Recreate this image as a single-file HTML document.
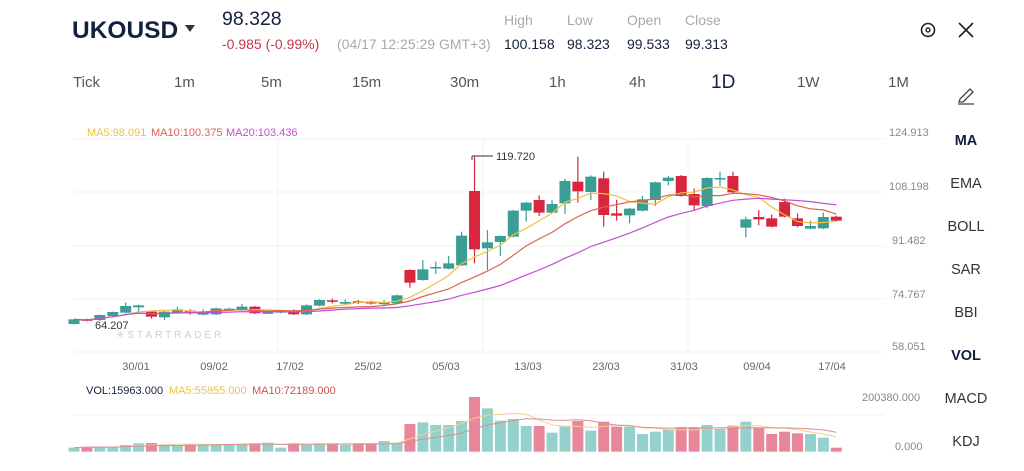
<!DOCTYPE html>
<html><head><meta charset="utf-8">
<style>
body{margin:0;width:1024px;height:471px;background:#fff;overflow:hidden;font-family:"Liberation Sans",sans-serif;}
svg{position:absolute;left:0;top:0}
</style></head><body>
<svg id="s" width="1024" height="471" xmlns="http://www.w3.org/2000/svg" font-family="Liberation Sans, sans-serif">
<text x="72" y="38" font-size="24.5" font-weight="bold" fill="#14213d">UKOUSD</text>
<path d="M185 25 L195 25 L190 32 Z" fill="#333"/>
<text x="222" y="25" font-size="19.5" fill="#14213d">98.328</text>
<text x="222" y="49" font-size="14" fill="#c8364a">-0.985 (-0.99%)</text>
<text x="337" y="49" font-size="14" fill="#a9a9a9">(04/17 12:25:29 GMT+3)</text>
<g font-size="14" fill="#a9a9a9"><text x="504" y="25">High</text><text x="567" y="25">Low</text><text x="627" y="25">Open</text><text x="685" y="25">Close</text></g>
<g font-size="14" fill="#14213d"><text x="504" y="49">100.158</text><text x="567" y="49">98.323</text><text x="627" y="49">99.533</text><text x="685" y="49">99.313</text></g>
<circle cx="928" cy="30" r="6.5" fill="none" stroke="#222" stroke-width="1.6"/><circle cx="928" cy="30" r="2" fill="none" stroke="#222" stroke-width="1.4"/>
<path d="M959 23 L973 37 M973 23 L959 37" stroke="#222" stroke-width="1.6"/>
<g font-size="15" fill="#555"><text x="73" y="87">Tick</text><text x="174" y="87">1m</text><text x="261" y="87">5m</text><text x="352" y="87">15m</text><text x="450" y="87">30m</text><text x="549" y="87">1h</text><text x="629" y="87">4h</text><text x="797" y="87">1W</text><text x="888" y="87">1M</text></g>
<text x="711" y="88" font-size="19" fill="#14213d">1D</text>
<path d="M960 99 L970 89 L973 92 L963 102 L959 102 Z M958 104 L974 104" stroke="#444" fill="none" stroke-width="1.3"/>
<g font-size="14.5" fill="#333" text-anchor="middle"><text x="966" y="145" font-weight="bold" fill="#14213d">MA</text><text x="966" y="188">EMA</text><text x="966" y="231">BOLL</text><text x="966" y="274">SAR</text><text x="966" y="317">BBI</text><text x="966" y="360" font-weight="bold" fill="#14213d">VOL</text><text x="966" y="403">MACD</text><text x="966" y="446">KDJ</text></g>
<g stroke="#f2f2f2" stroke-width="1"><line x1="73" y1="139" x2="885" y2="139"/><line x1="73" y1="192" x2="885" y2="192"/><line x1="73" y1="246" x2="885" y2="246"/><line x1="73" y1="299" x2="885" y2="299"/><line x1="73" y1="352" x2="885" y2="352"/><line x1="278" y1="139" x2="278" y2="352"/><line x1="483" y1="139" x2="483" y2="352"/><line x1="688" y1="139" x2="688" y2="352"/><line x1="73" y1="415" x2="885" y2="415"/></g>
<g font-size="11" fill="#888"><text x="889" y="136">124.913</text><text x="889" y="190">108.198</text><text x="892" y="244">91.482</text><text x="892" y="298">74.767</text><text x="892" y="350">58.051</text><text x="862" y="401">200380.000</text><text x="895" y="450">0.000</text></g>
<g font-size="11" fill="#666" text-anchor="middle"><text x="136" y="370">30/01</text><text x="214" y="370">09/02</text><text x="290" y="370">17/02</text><text x="368" y="370">25/02</text><text x="446" y="370">05/03</text><text x="528" y="370">13/03</text><text x="606" y="370">23/03</text><text x="684" y="370">31/03</text><text x="757" y="370">09/04</text><text x="832" y="370">17/04</text></g>
<g font-size="11"><text x="87" y="136" fill="#f0c040">MA5:98.091</text><text x="151" y="136" fill="#e06050">MA10:100.375</text><text x="226" y="136" fill="#c050d0">MA20:103.436</text></g>
<g font-size="11"><text x="86" y="394" fill="#14213d">VOL:15963.000</text><text x="169" y="394" fill="#f0c040">MA5:55855.000</text><text x="252" y="394" fill="#d05050">MA10:72189.000</text></g>
<text x="95" y="329" font-size="11" fill="#333">64.207</text>
<text x="116" y="338" font-size="10" fill="#ccd" letter-spacing="3">✳STARTRADER</text>
<path d="M472 156 L472 160 M472 156 L493 156" stroke="#333" fill="none"/>
<text x="496" y="160" font-size="11" fill="#333">119.720</text>
<g id="c"></g>
</svg>
<script>
var C=[
[42,598,612,598,614,'g'],[70,598,602,596,604,'r'],[110,585,600,584,602,'g'],[150,576,588,575,590,'g'],[188,558,578,548,580,'g'],[228,556,562,554,575,'g'],[265,575,590,573,596,'r'],[305,575,592,573,600,'g'],[343,568,580,560,582,'g'],[383,572,580,568,584,'r'],[422,574,584,568,586,'g'],[460,565,583,563,585,'g'],[500,566,571,563,573,'g'],[538,560,570,552,572,'g'],[577,560,580,558,582,'r'],[615,577,580,575,582,'g'],[655,572,578,570,580,'g'],[693,572,583,568,585,'r'],[733,556,583,553,585,'g'],[771,540,557,538,559,'g'],[810,541,545,536,550,'r'],[848,546,551,538,553,'g'],[886,544,548,540,552,'r'],[928,546,550,542,554,'r'],[966,548,550,540,556,'g'],[1005,526,550,524,552,'g'],[1044,450,488,448,503,'r'],[1082,448,480,420,482,'g'],[1122,441,444,425,462,'g'],[1160,430,446,408,448,'g'],[1200,347,436,335,438,'g'],[1238,213,388,110,430,'r'],
[1278,367,385,330,450,'g'],[1316,348,366,346,408,'g'],[1355,272,350,270,352,'g'],[1394,248,272,246,305,'g'],[1432,240,278,226,288,'r'],[1472,252,278,240,280,'g'],[1511,183,250,176,282,'g'],[1550,185,214,110,248,'r'],[1589,170,216,166,240,'g'],[1628,175,285,155,320,'r'],[1666,280,287,240,302,'r'],[1705,266,286,264,310,'g'],[1744,238,272,228,274,'g'],[1783,187,240,185,258,'g'],[1822,173,183,168,196,'g'],[1860,168,228,165,230,'r'],[1899,222,256,205,270,'r'],[1938,174,258,172,265,'g'],[1977,174,177,155,198,'g'],[2016,168,217,155,219,'r'],[2055,298,323,290,352,'g'],[2094,291,298,270,316,'r'],[2133,295,320,283,322,'r'],[2172,246,290,236,292,'r'],[2211,295,318,280,322,'r'],[2250,318,326,302,328,'g'],[2289,291,325,278,327,'g'],[2328,290,302,287,304,'r']];
var V=[218,215,215,217,210,205,204,210,210,207,209,208,207,207,205,203,218,205,207,205,205,210,205,205,198,203,147,142,150,150,138,66,100,137,132,153,153,173,155,138,167,140,155,155,177,170,165,157,157,150,162,152,140,157,177,170,175,177,188,218];
var s='',G='#3a9e94',R='#d7263d',closes=[];
for(var i=0;i<60;i++){var c=C[i],x=74+i*12.92,t=120+c[1]/3,b=120+c[2]/3,hi=120+c[3]/3,lo=120+c[4]/3,col=c[5]=='g'?G:R;
s+='<line x1="'+x+'" y1="'+hi+'" x2="'+x+'" y2="'+lo+'" stroke="'+col+'" stroke-width="1.2"/>';
s+='<rect x="'+(x-5.5)+'" y="'+t+'" width="11" height="'+Math.max(1.5,b-t)+'" fill="'+col+'"/>';
closes.push(c[5]=='g'?t:b);
var vt=375+V[i]/3,vb=375+230/3;
s+='<rect x="'+(x-5.5)+'" y="'+vt+'" width="11" height="'+(vb-vt)+'" fill="'+(c[5]=='g'?'#95d1cc':'#e8869a')+'"/>';}
function ma(arr,n,off){var p=[];for(var i=0;i<arr.length;i++){var a=Math.max(0,i-n+1),sm=0;for(var j=a;j<=i;j++)sm+=arr[j];p.push((74+i*12.92).toFixed(1)+','+(sm/(i-a+1)+(off||0)).toFixed(1));}return p.join(' ');}
s+='<polyline points="'+ma(closes,5)+'" fill="none" stroke="#f0c040" stroke-width="1.2"/>';
s+='<polyline points="'+ma(closes,10)+'" fill="none" stroke="#e06050" stroke-width="1.2"/>';
s+='<polyline points="'+ma(closes,20)+'" fill="none" stroke="#c050d0" stroke-width="1.2"/>';
var vv=V.map(function(v){return 375+v/3;});
s+='<polyline points="'+ma(vv,5)+'" fill="none" stroke="#f5d090" stroke-width="1"/>';
s+='<polyline points="'+ma(vv,10)+'" fill="none" stroke="#d89090" stroke-width="1"/>';
document.getElementById('c').innerHTML=s;
</script>
</body></html>
